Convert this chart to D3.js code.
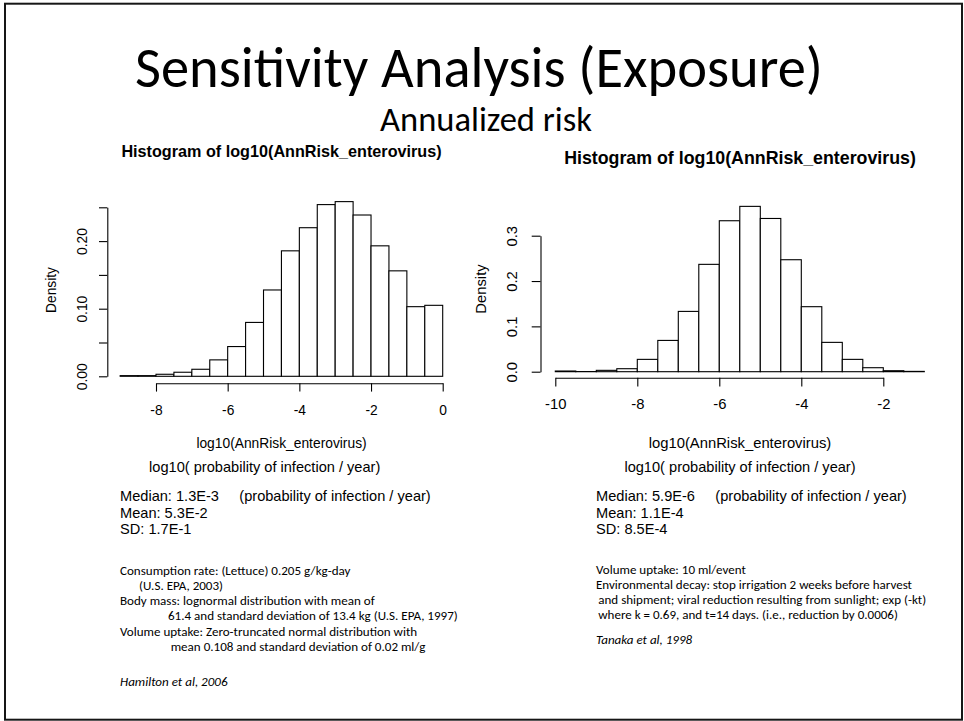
<!DOCTYPE html>
<html>
<head>
<meta charset="utf-8">
<script src="https://cdn.jsdelivr.net/npm/d3@7"></script>
<style>
  html, body { margin: 0; padding: 0; background: #fff; }
  svg { display: block; }
</style>
</head>
<body>
<svg id="slide" width="964" height="721"></svg>
<script>
// Histogram of log10 annual infection risk — lettuce exposure scenario
const leftBreaks  = [-9, -8.5, -8, -7.5, -7, -6.5, -6, -5.5, -5, -4.5, -4, -3.5, -3, -2.5, -2, -1.5, -1, -0.5, 0];
const leftDensity = [0.001, 0.001, 0.003, 0.006, 0.0104, 0.0243, 0.044, 0.0797, 0.1277, 0.1856,
                     0.2198, 0.254, 0.2584, 0.2386, 0.193, 0.156, 0.103, 0.105];
const leftXTicks  = [-8, -6, -4, -2, 0];
const leftYTicks  = [0, 0.05, 0.10, 0.15, 0.20, 0.25];
const leftYLabels = ["0.00", "", "0.10", "", "0.20", ""];

// Histogram of log10 annual infection risk — irrigation scenario
const rightBreaks  = [-10, -9.5, -9, -8.5, -8, -7.5, -7, -6.5, -6, -5.5, -5, -4.5, -4, -3.5, -3, -2.5, -2, -1.5, -1];
const rightDensity = [0.0015, 0.0003, 0.003, 0.0066, 0.0272, 0.069, 0.133, 0.2368, 0.333, 0.3647,
                      0.338, 0.247, 0.1434, 0.0647, 0.0272, 0.0088, 0.0022, 0.0007];
const rightXTicks  = [-10, -8, -6, -4, -2];
const rightYTicks  = [0, 0.1, 0.2, 0.3];
const rightYLabels = ["0.0", "0.1", "0.2", "0.3"];

// Slide texts
const slideTitle = "Sensitivity Analysis (Exposure)";
const slideSubtitle = "Annualized risk";
const histTitle = "Histogram of log10(AnnRisk_enterovirus)";
const xLabel = "log10(AnnRisk_enterovirus)";
const yLabel = "Density";
const unitLine = "log10( probability of infection / year)";
const unitNote = "(probability of infection / year)";
const leftStats = ["Median: 1.3E-3", "Mean: 5.3E-2", "SD: 1.7E-1"];
const rightStats = ["Median: 5.9E-6", "Mean: 1.1E-4", "SD: 8.5E-4"];
const leftNotes = [
  {t: "Consumption rate: (Lettuce) 0.205 g/kg-day", indent: 0},
  {t: "(U.S. EPA, 2003)", indent: 19},
  {t: "Body mass: lognormal distribution with mean of", indent: 0},
  {t: "61.4 and standard deviation of 13.4 kg (U.S. EPA, 1997)", indent: 48},
  {t: "Volume uptake: Zero-truncated normal distribution with", indent: 0},
  {t: "mean 0.108 and standard deviation of 0.02 ml/g", indent: 50.7}
];
const leftCitation = "Hamilton et al, 2006";
const rightNotes = [
  {t: "Volume uptake: 10 ml/event", indent: 0},
  {t: "Environmental decay: stop irrigation 2 weeks before harvest", indent: 0},
  {t: "and shipment; viral reduction resulting from sunlight; exp (-kt)", indent: 2.3},
  {t: "where k = 0.69, and t=14 days. (i.e., reduction by 0.0006)", indent: 2.3}
];
const rightCitation = "Tanaka et al, 1998";

const svg = d3.select("#slide");
const SLIDE_FONT = "Carlito, Calibri, Lato, sans-serif";
const R_FONT = "'Liberation Sans', Arial, Helvetica, sans-serif";

svg.append("rect").attr("width", 964).attr("height", 721).attr("fill", "#fff");
svg.append("rect")
  .attr("x", 5).attr("y", 3.7).attr("width", 957).attr("height", 716)
  .attr("fill", "none").attr("stroke", "#161616").attr("stroke-width", 2);

// scale a text's font size so that its rendered width equals target
function fitWidth(sel, target) {
  const w = sel.node().getComputedTextLength();
  const fs = parseFloat(sel.attr("font-size"));
  const size = fs * target / w;
  sel.attr("font-size", size.toFixed(2));
  return size;
}

fitWidth(svg.append("text")
  .attr("x", 479).attr("y", 87)
  .attr("text-anchor", "middle")
  .attr("font-family", SLIDE_FONT).attr("font-size", 50)
  .attr("fill", "#000").text(slideTitle), 688);

fitWidth(svg.append("text")
  .attr("x", 486).attr("y", 131)
  .attr("text-anchor", "middle")
  .attr("font-family", SLIDE_FONT).attr("font-size", 26)
  .attr("fill", "#000").text(slideSubtitle), 212);

// One R-style density histogram panel
function drawHist(cfg) {
  const g = svg.append("g");
  const x = d3.scaleLinear().domain(cfg.xDomain).range(cfg.xRange);
  const y = d3.scaleLinear().domain(cfg.yDomain).range(cfg.yRange);
  const fs = cfg.fontSize;

  // bars
  const bins = cfg.density.map((d, i) => ({x0: cfg.breaks[i], x1: cfg.breaks[i + 1], d}));
  g.selectAll("rect.bar").data(bins).enter().append("rect")
    .attr("class", "bar")
    .attr("x", b => x(b.x0))
    .attr("width", b => x(b.x1) - x(b.x0))
    .attr("y", b => y(b.d))
    .attr("height", b => y(0) - y(b.d))
    .attr("fill", "#fff").attr("stroke", "#000").attr("stroke-width", 1.1);

  // x axis (line spans first to last tick, as R draws it)
  const xt = cfg.xTicks;
  const xAxisScale = d3.scaleLinear().domain([xt[0], xt[xt.length - 1]])
    .range([x(xt[0]), x(xt[xt.length - 1])]);
  const xa = g.append("g")
    .attr("transform", `translate(0,${cfg.xAxisY})`)
    .call(d3.axisBottom(xAxisScale).tickValues(xt).tickSize(cfg.tick).tickSizeOuter(0)
      .tickPadding(0).tickFormat(d => d3.format("d")(d).replace("−", "-")));
  xa.select(".domain").attr("stroke", "#000").attr("stroke-width", 1.1);
  xa.selectAll(".tick line").attr("stroke", "#000").attr("stroke-width", 1.1);
  xa.selectAll(".tick text")
    .attr("y", cfg.xLabelOffset).attr("dy", 0)
    .attr("font-family", R_FONT).attr("font-size", fs).attr("fill", "#000");

  // y axis
  const yt = cfg.yTicks;
  const yAxisScale = d3.scaleLinear().domain([yt[0], yt[yt.length - 1]])
    .range([y(yt[0]), y(yt[yt.length - 1])]);
  const ya = g.append("g")
    .attr("transform", `translate(${cfg.yAxisX},0)`)
    .call(d3.axisLeft(yAxisScale).tickValues(yt).tickSize(cfg.tick).tickSizeOuter(0)
      .tickFormat((d, i) => cfg.yLabels[i]));
  ya.select(".domain").attr("stroke", "#000").attr("stroke-width", 1.1);
  ya.selectAll(".tick line").attr("stroke", "#000").attr("stroke-width", 1.1);
  ya.selectAll(".tick text")
    .attr("x", 0).attr("y", 0).attr("dy", 0)
    .attr("text-anchor", "middle")
    .attr("transform", `translate(${-cfg.yLabelOffset},0) rotate(-90)`)
    .attr("font-family", R_FONT).attr("font-size", fs).attr("fill", "#000");

  // "Density" label
  g.append("text")
    .attr("transform", `translate(${cfg.yTitleX},${cfg.yTitleY}) rotate(-90)`)
    .attr("text-anchor", "middle")
    .attr("font-family", R_FONT).attr("font-size", fs).attr("fill", "#000")
    .text(yLabel);

  // main title
  g.append("text")
    .attr("x", cfg.titleX).attr("y", cfg.titleY)
    .attr("text-anchor", "middle")
    .attr("font-family", R_FONT).attr("font-weight", "bold")
    .attr("font-size", cfg.titleSize).attr("fill", "#000")
    .text(histTitle);

  // x label
  g.append("text")
    .attr("x", cfg.titleX).attr("y", cfg.xTitleY)
    .attr("text-anchor", "middle")
    .attr("font-family", R_FONT).attr("font-size", fs).attr("fill", "#000")
    .text(xLabel);
}

drawHist({
  breaks: leftBreaks, density: leftDensity,
  xTicks: leftXTicks, yTicks: leftYTicks, yLabels: leftYLabels,
  xDomain: [-8, 0], xRange: [156, 442.7],
  yDomain: [0, 0.25], yRange: [376.3, 207.3],
  xAxisY: 383.3, yAxisX: 107.3, tick: 8.3,
  xLabelOffset: 31.5, yLabelOffset: 20.3,
  yTitleX: 56, yTitleY: 290,
  titleX: 281.5, titleY: 157, titleSize: 16.2,
  xTitleY: 447.7, fontSize: 13.8
});

drawHist({
  breaks: rightBreaks, density: rightDensity,
  xTicks: rightXTicks, yTicks: rightYTicks, yLabels: rightYLabels,
  xDomain: [-10, -2], xRange: [555.3, 883.3],
  yDomain: [0, 0.3], yRange: [371.7, 235.7],
  xAxisY: 377.7, yAxisX: 540.5, tick: 8.8,
  xLabelOffset: 31.4, yLabelOffset: 23.5,
  yTitleX: 486, yTitleY: 289,
  titleX: 740, titleY: 164, titleSize: 17.8,
  xTitleY: 448, fontSize: 14.8
});

// Summary statistics and notes below each panel
function drawNotes(cfg) {
  const g = svg.append("g");
  g.append("text")
    .attr("x", cfg.unitX).attr("y", 471.8)
    .attr("text-anchor", "middle")
    .attr("font-family", R_FONT).attr("font-size", 14.6).attr("fill", "#000")
    .text(unitLine);

  g.selectAll("text.stat").data(cfg.stats).enter().append("text")
    .attr("class", "stat")
    .attr("x", cfg.x).attr("y", (d, i) => 501.3 + i * 16.5)
    .attr("font-family", R_FONT).attr("font-size", 14.6).attr("fill", "#000")
    .text(d => d);
  g.append("text")
    .attr("x", cfg.x + 119.3).attr("y", 501.3)
    .attr("font-family", R_FONT).attr("font-size", 14.6).attr("fill", "#000")
    .text(unitNote);

  const notes = g.selectAll("text.note").data(cfg.notes).enter().append("text")
    .attr("class", "note")
    .attr("x", d => cfg.x + d.indent).attr("y", (d, i) => cfg.noteY + i * cfg.noteStep)
    .attr("font-family", SLIDE_FONT).attr("font-size", 12).attr("fill", "#000")
    .text(d => d.t);

  // size the block from its reference line, then apply to every line
  const size = fitWidth(notes.filter((d, i) => i === cfg.fitLine), cfg.fitWidth);
  notes.attr("font-size", size.toFixed(2));

  g.append("text")
    .attr("x", cfg.x).attr("y", cfg.citeY)
    .attr("font-family", SLIDE_FONT).attr("font-style", "italic")
    .attr("font-size", size.toFixed(2)).attr("fill", "#000")
    .text(cfg.cite);
}

drawNotes({x: 120, unitX: 264.7, stats: leftStats, notes: leftNotes, noteY: 574.8, noteStep: 15.2,
           fitLine: 3, fitWidth: 290, cite: leftCitation, citeY: 685.7});
drawNotes({x: 596, unitX: 740, stats: rightStats, notes: rightNotes, noteY: 574.3, noteStep: 15,
           fitLine: 1, fitWidth: 316, cite: rightCitation, citeY: 643.5});
</script>
</body>
</html>
